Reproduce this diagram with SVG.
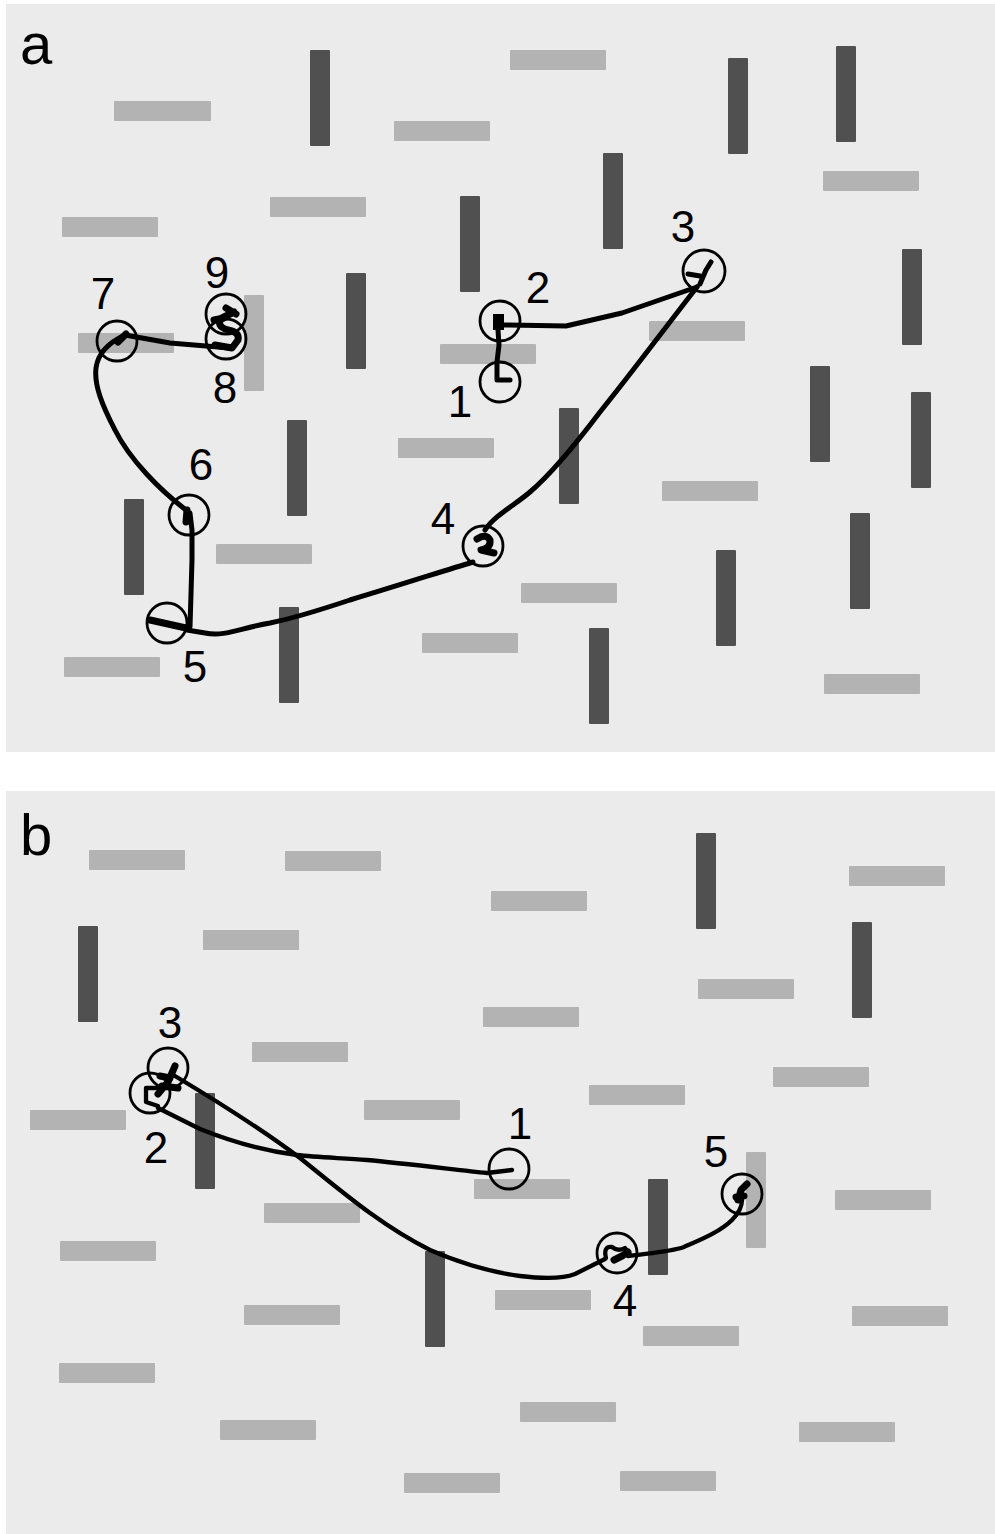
<svg xmlns="http://www.w3.org/2000/svg" width="995" height="1534" viewBox="0 0 995 1534">
<style>
.bg{fill:#ebebeb}
.l{fill:#b3b3b3}
.d{fill:#505050}
.fx{fill:none;stroke:#000;stroke-width:2.8}
.pa{fill:none;stroke:#000;stroke-width:5;stroke-linejoin:round;stroke-linecap:round}
.pb{fill:none;stroke:#000;stroke-width:4.3;stroke-linejoin:round;stroke-linecap:round}
.sc{fill:none;stroke:#000;stroke-width:7;stroke-linejoin:round;stroke-linecap:round}
.n{font-family:"Liberation Sans",Arial,sans-serif;font-size:44px;fill:#000;text-anchor:middle}
.p{font-family:"Liberation Sans",Arial,sans-serif;font-size:58px;fill:#000}
</style>
<rect width="995" height="1534" fill="#ffffff"/>
<g id="panel-a">
<rect class="bg" x="6" y="4" width="989" height="748"/>
<g id="bars-a">
<rect class="l" x="114" y="101" width="97" height="20" rx="1"/>
<rect class="d" x="310" y="50" width="20" height="96" rx="1"/>
<rect class="l" x="394" y="121" width="96" height="20" rx="1"/>
<rect class="l" x="62" y="217" width="96" height="20" rx="1"/>
<rect class="l" x="270" y="197" width="96" height="20" rx="1"/>
<rect class="d" x="460" y="196" width="20" height="96" rx="1"/>
<rect class="d" x="346" y="273" width="20" height="96" rx="1"/>
<rect class="l" x="78" y="333" width="96" height="20" rx="1"/>
<rect class="l" x="244" y="295" width="20" height="96" rx="1"/>
<rect class="l" x="440" y="344" width="96" height="20" rx="1"/>
<rect class="l" x="510" y="50" width="96" height="20" rx="1"/>
<rect class="d" x="728" y="58" width="20" height="96" rx="1"/>
<rect class="d" x="836" y="46" width="20" height="96" rx="1"/>
<rect class="d" x="603" y="153" width="20" height="96" rx="1"/>
<rect class="l" x="823" y="171" width="96" height="20" rx="1"/>
<rect class="l" x="649" y="321" width="96" height="20" rx="1"/>
<rect class="d" x="902" y="249" width="20" height="96" rx="1"/>
<rect class="d" x="810" y="366" width="20" height="96" rx="1"/>
<rect class="d" x="287" y="420" width="20" height="96" rx="1"/>
<rect class="l" x="398" y="438" width="96" height="20" rx="1"/>
<rect class="d" x="124" y="499" width="20" height="96" rx="1"/>
<rect class="l" x="216" y="544" width="96" height="20" rx="1"/>
<rect class="d" x="279" y="607" width="20" height="96" rx="1"/>
<rect class="l" x="64" y="657" width="96" height="20" rx="1"/>
<rect class="l" x="422" y="633" width="96" height="20" rx="1"/>
<rect class="d" x="559" y="408" width="20" height="96" rx="1"/>
<rect class="d" x="911" y="392" width="20" height="96" rx="1"/>
<rect class="l" x="662" y="481" width="96" height="20" rx="1"/>
<rect class="d" x="850" y="513" width="20" height="96" rx="1"/>
<rect class="d" x="716" y="550" width="20" height="96" rx="1"/>
<rect class="l" x="521" y="583" width="96" height="20" rx="1"/>
<rect class="d" x="589" y="628" width="20" height="96" rx="1"/>
<rect class="l" x="824" y="674" width="96" height="20" rx="1"/>
</g>
<text class="p" x="20" y="64">a</text>
</g>
<g id="scanpath-a">
<path class="pa" d="M510,380 L497,380 L497,362 L499,345 L498,330"/>
<rect x="493" y="314" width="11" height="16"/>
<path class="pa" d="M503,325 L566,326 L622,313 L697,287"/>
<path class="pa" d="M688,274 L700,276 M700,284 L706,270 L711,262"/>
<path class="pa" d="M697,287 C665,328 630,375 600,412 C575,445 550,475 530,492 C515,505 495,515 485,530"/>
<path class="sc" d="M477,539 Q486,533 490,540 Q491,548 481,550 L494,553"/>
<path class="pa" d="M473,562 C440,572 400,585 350,600 C320,610 295,618 270,623 C240,628 225,637 205,633 L187,630"/>
<path class="sc" d="M150,620 L186,628"/>
<path class="pa" d="M190,627 L192,560 L192,530 L190,513"/>
<path class="sc" d="M187,510 L186,522"/>
<path class="pa" d="M186,510 C160,490 130,460 115,430 C102,405 94,385 96,368 C98,352 110,342 125,335"/>
<path class="sc" d="M118,342 L126,334"/>
<path class="pa" d="M125,335 L170,343 L230,348"/>
<path class="sc" d="M215,345 L232,348 L238,340 Q240,332 228,330 Q215,326 222,318 L234,312 M224,318 L214,320 M226,308 L236,314"/>
<circle class="fx" cx="500" cy="382" r="20"/>
<circle class="fx" cx="500" cy="321" r="20"/>
<circle class="fx" cx="704" cy="271" r="21"/>
<circle class="fx" cx="483" cy="546" r="20"/>
<circle class="fx" cx="167" cy="623" r="20"/>
<circle class="fx" cx="189" cy="515" r="20"/>
<circle class="fx" cx="117" cy="341" r="20"/>
<circle class="fx" cx="226" cy="314" r="20"/>
<circle class="fx" cx="226" cy="339" r="20"/>
<text class="n" x="460" y="417">1</text>
<text class="n" x="538" y="303">2</text>
<text class="n" x="683" y="242">3</text>
<text class="n" x="443" y="534">4</text>
<text class="n" x="195" y="682">5</text>
<text class="n" x="201" y="480">6</text>
<text class="n" x="103" y="309">7</text>
<text class="n" x="225" y="403">8</text>
<text class="n" x="217" y="288">9</text>
</g>
<g id="panel-b">
<rect class="bg" x="6" y="791" width="989" height="743"/>
<g id="bars-b">
<rect class="l" x="89" y="850" width="96" height="20" rx="1"/>
<rect class="l" x="285" y="851" width="96" height="20" rx="1"/>
<rect class="d" x="78" y="926" width="20" height="96" rx="1"/>
<rect class="l" x="203" y="930" width="96" height="20" rx="1"/>
<rect class="l" x="491" y="891" width="96" height="20" rx="1"/>
<rect class="l" x="252" y="1042" width="96" height="20" rx="1"/>
<rect class="l" x="30" y="1110" width="96" height="20" rx="1"/>
<rect class="l" x="364" y="1100" width="96" height="20" rx="1"/>
<rect class="l" x="483" y="1007" width="96" height="20" rx="1"/>
<rect class="d" x="195" y="1093" width="20" height="96" rx="1"/>
<rect class="d" x="696" y="833" width="20" height="96" rx="1"/>
<rect class="l" x="849" y="866" width="96" height="20" rx="1"/>
<rect class="d" x="852" y="922" width="20" height="96" rx="1"/>
<rect class="l" x="698" y="979" width="96" height="20" rx="1"/>
<rect class="l" x="773" y="1067" width="96" height="20" rx="1"/>
<rect class="l" x="589" y="1085" width="96" height="20" rx="1"/>
<rect class="l" x="746" y="1152" width="20" height="96" rx="1"/>
<rect class="l" x="264" y="1203" width="96" height="20" rx="1"/>
<rect class="l" x="60" y="1241" width="96" height="20" rx="1"/>
<rect class="l" x="474" y="1179" width="96" height="20" rx="1"/>
<rect class="d" x="425" y="1251" width="20" height="96" rx="1"/>
<rect class="l" x="244" y="1305" width="96" height="20" rx="1"/>
<rect class="l" x="59" y="1363" width="96" height="20" rx="1"/>
<rect class="l" x="220" y="1420" width="96" height="20" rx="1"/>
<rect class="l" x="404" y="1473" width="96" height="20" rx="1"/>
<rect class="d" x="648" y="1179" width="20" height="96" rx="1"/>
<rect class="l" x="835" y="1190" width="96" height="20" rx="1"/>
<rect class="l" x="495" y="1290" width="96" height="20" rx="1"/>
<rect class="l" x="852" y="1306" width="96" height="20" rx="1"/>
<rect class="l" x="643" y="1326" width="96" height="20" rx="1"/>
<rect class="l" x="520" y="1402" width="96" height="20" rx="1"/>
<rect class="l" x="799" y="1422" width="96" height="20" rx="1"/>
<rect class="l" x="620" y="1471" width="96" height="20" rx="1"/>
</g>
<text class="p" x="20" y="855">b</text>
</g>
<g id="scanpath-b">
<path class="pb" d="M512,1170 L487,1173 C450,1169 400,1163 367,1160 C340,1158 315,1157 297,1155 C265,1151 235,1143 200,1129 L158,1108"/>
<path class="pb" d="M160,1088 L146,1088 L146,1102 L158,1106"/>
<path class="sc" d="M158,1094 L168,1082 L175,1066 M162,1086 L178,1088 M160,1076 L170,1078"/>
<path class="pb" d="M175,1076 C215,1100 260,1128 300,1158 C340,1190 380,1225 430,1250 C460,1263 490,1272 520,1276 C545,1279 565,1278 575,1274 L605,1259"/>
<path class="pb" d="M606,1258 Q603,1246 612,1247 Q618,1252 625,1248 L630,1255"/>
<path class="sc" d="M614,1260 L622,1256 L628,1252"/>
<path class="pb" d="M628,1256 C650,1253 670,1252 684,1247 C700,1240 720,1232 732,1220 C740,1212 742,1205 742,1200"/>
<path class="sc" d="M738,1200 L741,1190 L747,1184 M736,1197 L744,1196"/>
<circle class="fx" cx="509" cy="1169" r="20"/>
<circle class="fx" cx="150" cy="1093" r="20"/>
<circle class="fx" cx="168" cy="1068" r="20"/>
<circle class="fx" cx="617" cy="1253" r="20"/>
<circle class="fx" cx="742" cy="1194" r="20"/>
<text class="n" x="520" y="1139">1</text>
<text class="n" x="156" y="1163">2</text>
<text class="n" x="170" y="1038">3</text>
<text class="n" x="625" y="1316">4</text>
<text class="n" x="716" y="1167">5</text>
</g>
</svg>
